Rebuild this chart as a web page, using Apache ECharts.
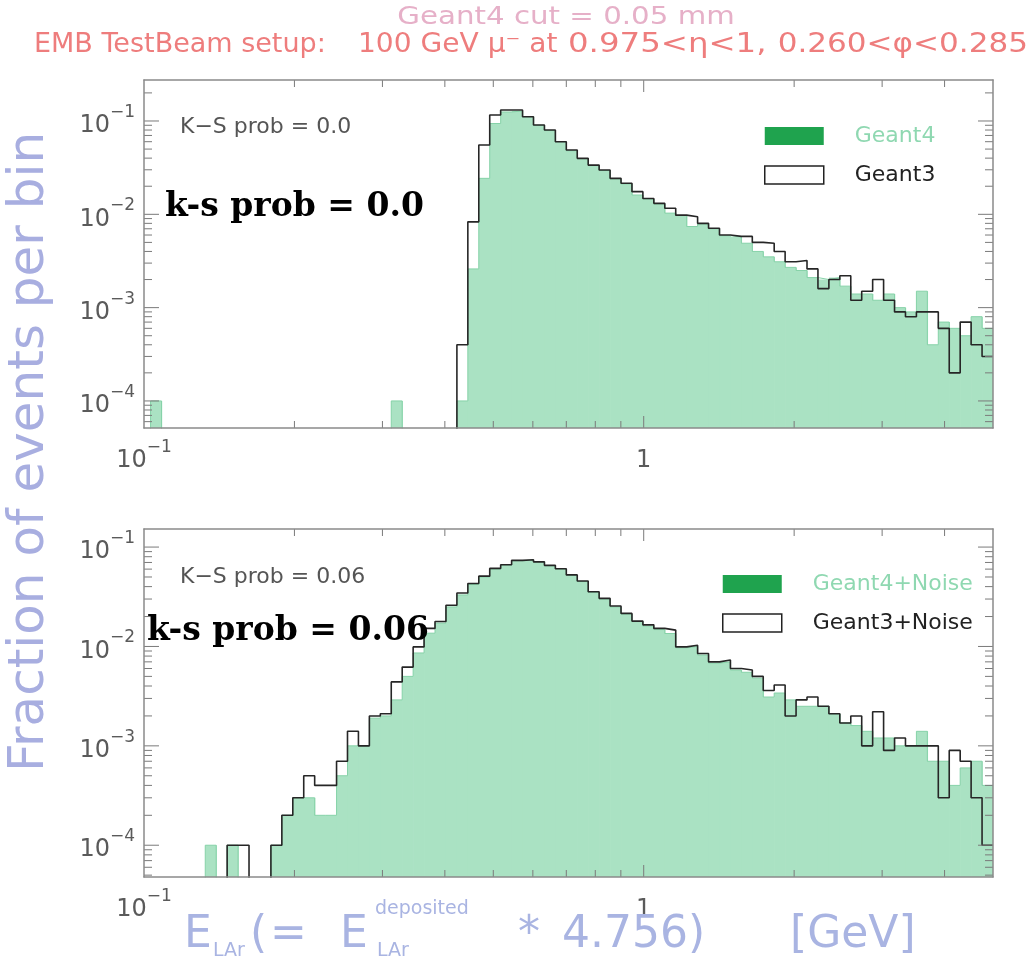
<!DOCTYPE html>
<html><head><meta charset="utf-8">
<script src="https://cdn.jsdelivr.net/npm/echarts@6/dist/echarts.min.js"></script>
<style>html,body{margin:0;padding:0;background:#fff}#c{width:1032px;height:973px}</style>
</head><body><div id="c"></div>
<script>
// ---- histogram binning (log-uniform bins) ----
const binLow = 0.098, binHigh = 5.0, nBins = 78;

// ---- data: fraction of events per bin ----
const g4Top = [0,1e-4,0,0,0,0,0,0,0,0, 0,0,0,0,0,0,0,0,0,0,
  0,0,0,1e-4,0,0,0,0,0,1e-4,
  0.0026,0.0243,0.094,0.125,0.128,0.111,0.090,0.079,0.060,0.048,
  0.0395,0.0333,0.0295,0.0240,0.0212,0.0161,0.0146,0.0129,0.0103,0.0097,
  0.0074,0.0079,0.0070,0.0059,0.0057,0.0049,0.0040,0.0035,0.0031,0.0027,
  0.0025,0.0021,0.0020,0.0021,0.0017,0.0014,0.0014,0.0012,0.0014,0.0010,
  0.0009,0.0015,0.0004,0.0007,0.0006,0.0005,0.0008,0.0006];
const g3Top = [0,0,0,0,0,0,0,0,0,0, 0,0,0,0,0,0,0,0,0,0,
  0,0,0,0,0,0,0,0,0,0.0004,
  0.0083,0.0553,0.116,0.131,0.131,0.111,0.0906,0.080,0.060,0.0489,
  0.0398,0.0337,0.0298,0.0243,0.0215,0.0175,0.0148,0.0131,0.0116,0.0098,
  0.0094,0.0080,0.0071,0.0060,0.0058,0.0058,0.0050,0.0049,0.0040,0.0031,
  0.0032,0.0026,0.0016,0.0020,0.0022,0.0012,0.0015,0.0020,0.0012,0.0009,
  0.0008,0.0009,0.0009,0.0006,0.0002,0.0007,0.0004,0.0003];
const g4Bot = [0,0,0,0,0,0,0.0001,0,0.0001,0,
  0,0,0.0001,0.0002,0.0003,0.0003,0.0002,0.0002,0.0005,0.0010,
  0.0010,0.0019,0.0020,0.0029,0.0050,0.0086,0.0136,0.0172,0.0250,0.0330,
  0.0420,0.0500,0.0600,0.0660,0.0730,0.0740,0.0705,0.0650,0.0600,0.0520,
  0.0450,0.0350,0.0300,0.0250,0.0212,0.0178,0.0160,0.0148,0.0135,0.0097,
  0.0100,0.0082,0.0068,0.0070,0.0058,0.0055,0.0048,0.0031,0.0034,0.0029,
  0.0025,0.0025,0.0025,0.0021,0.0017,0.0016,0.0014,0.0012,0.0012,0.0010,
  0.0010,0.0014,0.0007,0.0007,0.0004,0.0006,0.0007,0.0004];
const g3Bot = [0,0,0,0,0,0,0,0,0.0001,0.0001,
  0,0,0.0001,0.0002,0.0003,0.0005,0.0004,0.0004,0.0007,0.0014,
  0.0010,0.0020,0.0021,0.0044,0.0062,0.0099,0.0152,0.0178,0.0260,0.0345,
  0.0430,0.0510,0.0610,0.0665,0.0735,0.0745,0.0710,0.0655,0.0605,0.0525,
  0.0455,0.0355,0.0305,0.0255,0.0215,0.0180,0.0165,0.0152,0.0146,0.0099,
  0.0103,0.0085,0.0070,0.0073,0.0060,0.0058,0.0050,0.0036,0.0041,0.0020,
  0.0029,0.0031,0.0025,0.0021,0.0017,0.0020,0.0010,0.0022,0.0009,0.0012,
  0.0010,0.0010,0.0010,0.0003,0.0009,0.0007,0.0003,0.0001];

// ---- axis ranges and tick labels ----
const xRange = [0.1, 5.0];
const yRangeTop = [5.13e-5, 0.275];
const yRangeBot = [4.79e-5, 0.152];
const xTickLabels = {'-1': '{b|10}{s|−1}', '0': '{b|1}'};
const yTickLabels = {'-1': '{b|10}{s|−1}', '-2': '{b|10}{s|−2}', '-3': '{b|10}{s|−3}', '-4': '{b|10}{s|−4}'};
const tickMantissas = [1,2,3,4,5,6,7,8,9];
const decades = [-5,-4,-3,-2,-1,0];

const binEdges = [];
for (let i = 0; i <= nBins; i++) binEdges.push(binLow * Math.pow(binHigh / binLow, i / nBins));

const FILL = '#aae2c3';
const chart = echarts.init(document.getElementById('c'), null, {renderer: 'canvas'});

function fillData(vals) { return vals.map((v, i) => [binEdges[i], binEdges[i + 1], v]).filter(d => d[2] > 0); }
function stepData(vals) {
  const fl = 1e-9;
  const pts = vals.map((v, i) => [binEdges[i], v > 0 ? v : fl]);
  pts.push([binEdges[nBins], vals[nBins - 1] > 0 ? vals[nBins - 1] : fl]);
  return pts;
}
function isDecade(v) { const l = Math.log10(v); return Math.abs(l - Math.round(l)) < 1e-6 ? Math.round(l) : null; }
function ticksFor(range) {
  const out = [];
  decades.forEach(k => tickMantissas.forEach(m => {
    const v = m * Math.pow(10, k);
    if (v > range[0] * 1.0001 && v < range[1] * 0.9999) out.push([v, m === 1 ? 1 : 0]);
  }));
  return out;
}
const rich = {
  b: {fontSize: 24, fontFamily: 'DejaVu Sans', color: '#5a5a5a', lineHeight: 34, verticalAlign: 'bottom'},
  s: {fontSize: 17, fontFamily: 'DejaVu Sans', color: '#5a5a5a', lineHeight: 34, verticalAlign: 'top'}
};
function xAxes(gi) {
  return [
    {type: 'log', logBase: 10, gridIndex: gi, min: xRange[0], max: xRange[1], z: 10,
     axisLine: {show: true, onZero: false, lineStyle: {color: '#8a8a8a', width: 1.5}}, axisTick: {show: false}, splitLine: {show: false},
     axisLabel: {show: true, margin: 11, showMinLabel: true, showMaxLabel: true, rich: rich,
       formatter: v => { const d = isDecade(v); return d === null ? '' : (xTickLabels[String(d)] || ''); }}},
    {type: 'log', logBase: 10, gridIndex: gi, position: 'top', min: xRange[0], max: xRange[1], z: 10,
     axisLine: {show: true, onZero: false, lineStyle: {color: '#8a8a8a', width: 1.5}}, axisTick: {show: false}, axisLabel: {show: false}, splitLine: {show: false}}
  ];
}
function yAxes(gi, range) {
  return [
    {type: 'log', logBase: 10, gridIndex: gi, min: range[0], max: range[1], z: 10,
     axisLine: {show: true, onZero: false, lineStyle: {color: '#8a8a8a', width: 1.5}}, axisTick: {show: false}, splitLine: {show: false},
     axisLabel: {show: true, margin: 9, rich: rich,
       formatter: v => { const d = isDecade(v); return d === null ? '' : (yTickLabels[String(d)] || ''); }}},
    {type: 'log', logBase: 10, gridIndex: gi, position: 'right', min: range[0], max: range[1], z: 10,
     axisLine: {show: true, onZero: false, lineStyle: {color: '#8a8a8a', width: 1.5}}, axisTick: {show: false}, axisLabel: {show: false}, splitLine: {show: false}}
  ];
}
function fillSeries(name, vals, ax) {
  return {type: 'custom', name: name, xAxisIndex: ax, yAxisIndex: ax, clip: true, z: 2,
    itemStyle: {color: FILL}, encode: {x: [0, 1], y: 2}, data: fillData(vals),
    renderItem: (params, api) => {
      const a = api.coord([api.value(0), api.value(2)]);
      const b = api.coord([api.value(1), api.value(2)]);
      const cs = params.coordSys;
      return {type: 'rect', shape: {x: a[0], y: a[1], width: b[0] - a[0] + 0.7, height: cs.y + cs.height - a[1]},
        style: {fill: FILL}};
    }};
}
function lineSeries(name, vals, ax, color, width, z) {
  return {type: 'line', name: name, xAxisIndex: ax, yAxisIndex: ax, step: 'end', showSymbol: false, symbol: 'none',
    clip: true, z: z, lineStyle: {color: color, width: width}, itemStyle: {color: color}, data: stepData(vals)};
}
function tickSeries(ax, yRange) {
  const yt = ticksFor(yRange).map(t => [1, t[0], t[1], 0]);
  const xt = ticksFor(xRange).map(t => [t[0], yRange[0] * 2, t[1], 1]);
  return {type: 'custom', name: 'ticks' + ax, xAxisIndex: ax, yAxisIndex: ax, z: 6, silent: true, clip: false,
    encode: {x: 0, y: 1}, data: yt.concat(xt),
    renderItem: (params, api) => {
      const cs = params.coordSys;
      const major = api.value(2) === 1, kind = api.value(3);
      const st = {stroke: '#7a7a7a', lineWidth: 1};
      if (kind === 0) {
        const y = api.coord([api.value(0), api.value(1)])[1];
        const L = major ? 15 : 8;
        return {type: 'group', children: [
          {type: 'line', shape: {x1: cs.x, y1: y, x2: cs.x + L, y2: y}, style: st},
          {type: 'line', shape: {x1: cs.x + cs.width, y1: y, x2: cs.x + cs.width - L, y2: y}, style: st}]};
      } else {
        const x = api.coord([api.value(0), api.value(1)])[0];
        const L = major ? 12 : 7;
        return {type: 'group', children: [
          {type: 'line', shape: {x1: x, y1: cs.y + cs.height, x2: x, y2: cs.y + cs.height - L}, style: st},
          {type: 'line', shape: {x1: x, y1: cs.y, x2: x, y2: cs.y + L}, style: st}]};
      }
    }};
}
function legend(left, top, n4, n3) {
  return {orient: 'vertical', left: left, top: top, padding: 0, itemWidth: 59, itemHeight: 18, itemGap: 17, selectedMode: false,
    textStyle: {fontSize: 22, fontFamily: 'DejaVu Sans', lineHeight: 18, padding: [0, 0, 0, 26]},
    data: [
      {name: n4, icon: 'rect', itemStyle: {color: '#1fa34e', borderWidth: 0}, textStyle: {color: '#8fd8b1'}},
      {name: n3, icon: 'rect', itemStyle: {color: '#ffffff', borderColor: '#222', borderWidth: 1.5}, textStyle: {color: '#222'}}
    ]};
}
function txt(text, x, y, font, fill, align, sx) {
  return {type: 'text', x: x, y: y, z: 100, scaleX: sx || 1,
    style: {text: text, font: font, fill: fill, align: align || 'left', verticalAlign: 'middle'}};
}
const T = '"DejaVu Sans", sans-serif';
const TITLE2 = '#ee7d7d', AX = '#a9b4e2';
const option = {
  animation: false,
  backgroundColor: '#ffffff',
  grid: [
    {left: 144, top: 80, width: 849, height: 348},
    {left: 144, top: 529, width: 849, height: 348}
  ],
  xAxis: xAxes(0).concat(xAxes(1)),
  yAxis: yAxes(0, yRangeTop).concat(yAxes(1, yRangeBot)),
  legend: [legend(764, 125, 'Geant4', 'Geant3'), legend(722, 573, 'Geant4+Noise', 'Geant3+Noise')],
  series: [
    fillSeries('Geant4', g4Top, 0),
    lineSeries('Geant4 edge', g4Top, 0, '#86d2a8', 1, 3),
    lineSeries('Geant3', g3Top, 0, '#262626', 1.6, 4),
    tickSeries(0, yRangeTop),
    fillSeries('Geant4+Noise', g4Bot, 2),
    lineSeries('Geant4+Noise edge', g4Bot, 2, '#86d2a8', 1, 3),
    lineSeries('Geant3+Noise', g3Bot, 2, '#262626', 1.6, 4),
    tickSeries(2, yRangeBot)
  ],
  graphic: [
    txt('Geant4 cut = 0.05 mm', 566, 18, '24px ' + T, '#e6b0c8', 'center', 1.22),
    txt('EMB TestBeam setup:', 34, 45, '27px ' + T, TITLE2),
    txt('100 GeV μ⁻ at', 358, 45, '27px ' + T, TITLE2, 'left', 1.04),
    txt('0.975<η<1,', 568, 45, '27px ' + T, TITLE2, 'left', 1.2),
    txt('0.260<φ<0.285', 1028, 45, '27px ' + T, TITLE2, 'right', 1.15),
    {type: 'text', x: 30, y: 452, rotation: Math.PI / 2, z: 100,
      style: {text: 'Fraction of events per bin', font: '50px ' + T, fill: '#a8aee0', align: 'center', verticalAlign: 'middle'}},
    txt('E', 184, 936, '44px ' + T, AX),
    txt('LAr', 213, 951, '19px ' + T, AX),
    txt('(', 250, 936, '44px ' + T, AX),
    txt('=', 270, 936, '44px ' + T, AX),
    txt('E', 340, 936, '44px ' + T, AX),
    txt('deposited', 375, 909, '19px ' + T, AX),
    txt('LAr', 377, 951, '19px ' + T, AX),
    txt('*', 518, 936, '44px ' + T, AX),
    txt('4.756)', 562, 936, '44px ' + T, AX),
    txt('[GeV]', 790, 936, '44px ' + T, AX),
    txt('K−S prob = 0.0', 180, 127, '22px ' + T, '#555555'),
    txt('K−S prob = 0.06', 180, 577, '22px ' + T, '#555555'),
    txt('k-s prob = 0.0', 165, 207, 'bold 33px "DejaVu Serif", serif', '#000000'),
    txt('k-s prob = 0.06', 147, 631, 'bold 33px "DejaVu Serif", serif', '#000000')
  ]
};
chart.setOption(option);
</script></body></html>
